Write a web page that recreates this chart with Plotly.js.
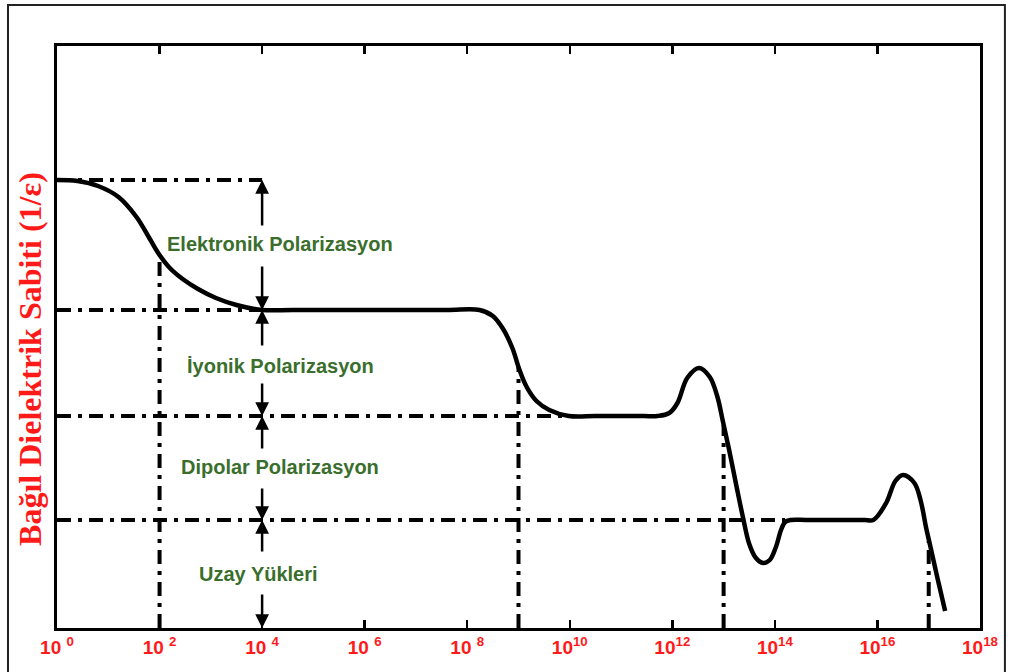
<!DOCTYPE html>
<html>
<head>
<meta charset="utf-8">
<script src="https://cdn.plot.ly/plotly-3.0.1.min.js"></script>
<style>html,body{margin:0;padding:0;background:#fff;}#chart{width:1012px;height:672px;}</style>
</head>
<body>
<div id="chart"></div>
<script>
// ---- data (frequency as log10 exponent, relative dielectric constant in arbitrary units) ----
const curveExp = [0, 0.4, 0.8, 1.2, 1.55, 1.8, 2.0, 2.2, 2.45, 2.75, 3.1, 3.5, 4.0, 4.6, 6.0, 7.6, 8.24,
  8.5, 8.7, 8.88, 9.02, 9.16, 9.35, 9.6, 9.98, 10.5, 11.0, 11.45, 11.71,
  11.94, 12.1, 12.29, 12.52, 12.73, 12.88, 12.98, 13.1, 13.25, 13.38, 13.5, 13.63, 13.77, 13.9, 14.02, 14.12, 14.2, 14.31, 14.6, 15.0, 15.5, 15.75, 15.92,
  16.17, 16.35, 16.5, 16.72, 16.84, 16.95, 17.03, 17.17, 17.32];
const curveVal = [4.48, 4.47, 4.42, 4.31, 4.11, 3.90, 3.73, 3.60, 3.49, 3.39, 3.30, 3.23, 3.18, 3.18, 3.18, 3.18, 3.18,
  3.12, 2.99, 2.80, 2.58, 2.41, 2.27, 2.18, 2.12, 2.12, 2.12, 2.12, 2.12,
  2.15, 2.25, 2.50, 2.60, 2.51, 2.31, 2.08, 1.80, 1.42, 1.10, 0.84, 0.70, 0.65, 0.68, 0.81, 0.98, 1.06, 1.08, 1.08, 1.08, 1.08, 1.08, 1.08,
  1.25, 1.47, 1.53, 1.45, 1.28, 1.00, 0.82, 0.50, 0.17];

const levelVals = [4.48, 3.18, 2.12, 1.08];     // horizontal reference levels
const levelEndExp = [4, 4, 10, 14.2];           // where each level line ends
const dropExp = [2, 9, 13, 17];                 // vertical reference lines
const dropTop = [3.73, 2.61, 2.03, 0.87];

const tickExp = [0, 2, 4, 6, 8, 10, 12, 14, 16, 18];
const tickText = ['10 <sup>0</sup>', '10 <sup>2</sup>', '10 <sup>4</sup>', '10 <sup>6</sup>', '10 <sup>8</sup>',
  '10<sup>10</sup>', '10<sup>12</sup>', '10<sup>14</sup>', '10<sup>16</sup>', '10<sup>18</sup>'];

const regionLabels = ['Elektronik Polarizasyon', 'İyonik Polarizasyon', 'Dipolar Polarizasyon', 'Uzay Yükleri'];
const regionLabelY = [3.84, 2.62, 1.61, 0.54];
const regionLabelExp = [4.35, 4.35, 4.35, 3.92];
const arrowExp = 4;
const yTitle = 'Bağıl Dielektrik Sabiti (1/ε)';

// ---- build ----
const p10 = e => Math.pow(10, e);
const DASH = '14px,7px,4px,7px';
const traces = [];
levelVals.forEach((v, i) => {
  traces.push({x: [p10(0), p10(levelEndExp[i])], y: [v, v], mode: 'lines',
    line: {color: '#000', width: 4, dash: DASH}, hoverinfo: 'skip', showlegend: false});
});
dropExp.forEach((e, i) => {
  traces.push({x: [p10(e), p10(e)], y: [0, dropTop[i]], mode: 'lines',
    line: {color: '#000', width: 4, dash: DASH}, hoverinfo: 'skip', showlegend: false});
});
traces.push({x: curveExp.map(p10), y: curveVal, mode: 'lines',
  line: {color: '#000', width: 4.5, shape: 'spline', smoothing: 1}, showlegend: false});

const annotations = [];
// arrows between levels: [tip value, tail offset px]
const arrowSpec = [[levelVals[0], 47], [levelVals[1], -45], [levelVals[1], 37], [levelVals[2], -34],
  [levelVals[2], 34], [levelVals[3], -33], [levelVals[3], 33], [0, -35]];
arrowSpec.forEach(([v, off]) => {
  annotations.push({x: arrowExp, y: v, xref: 'x', yref: 'y', text: '', showarrow: true,
    ax: 0, ay: off, arrowhead: 2, arrowsize: 1.1, arrowwidth: 2.5, arrowcolor: '#000', standoff: 0});
});
regionLabels.forEach((t, i) => {
  annotations.push({x: regionLabelExp[i], y: regionLabelY[i], xref: 'x', yref: 'y', text: '<b>' + t + '</b>',
    showarrow: false, font: {family: 'Liberation Sans, Arial, sans-serif', size: 20, color: '#3a6e2c'}});
});
annotations.push({x: -0.0295, y: 0.462, xref: 'paper', yref: 'paper', text: '<b>' + yTitle + '</b>',
  textangle: -90, showarrow: false, xanchor: 'center', yanchor: 'middle',
  font: {family: 'Liberation Serif, Times New Roman, serif', size: 32, color: '#ff1a1a'}});

const layout = {
  width: 1012, height: 672,
  margin: {l: 57, r: 32, t: 46, b: 44},
  paper_bgcolor: '#fff', plot_bgcolor: '#fff',
  showlegend: false,
  xaxis: {type: 'log', range: [0, 18], tickmode: 'array', tickvals: tickExp.map(p10), ticktext: tickText,
    ticks: 'inside', ticklen: 8, tickwidth: 2.5, tickcolor: '#000', showgrid: false, zeroline: false,
    showline: true, linewidth: 3, linecolor: '#000', mirror: 'ticks',
    tickfont: {family: 'Liberation Sans, Arial, sans-serif', size: 19, color: '#ff1a1a', weight: 'bold'}},
  yaxis: {range: [0, 5.82], showticklabels: false, ticks: '', showgrid: false, zeroline: false,
    showline: true, linewidth: 3, linecolor: '#000', mirror: true},
  annotations: annotations,
  shapes: [{type: 'rect', xref: 'paper', yref: 'paper', x0: -0.0531, x1: 1.027, y0: -0.1, y1: 1.0704,
    line: {color: '#222', width: 2}, fillcolor: 'rgba(0,0,0,0)'}]
};
Plotly.newPlot('chart', traces, layout, {displayModeBar: false, staticPlot: true});
</script>
</body>
</html>
